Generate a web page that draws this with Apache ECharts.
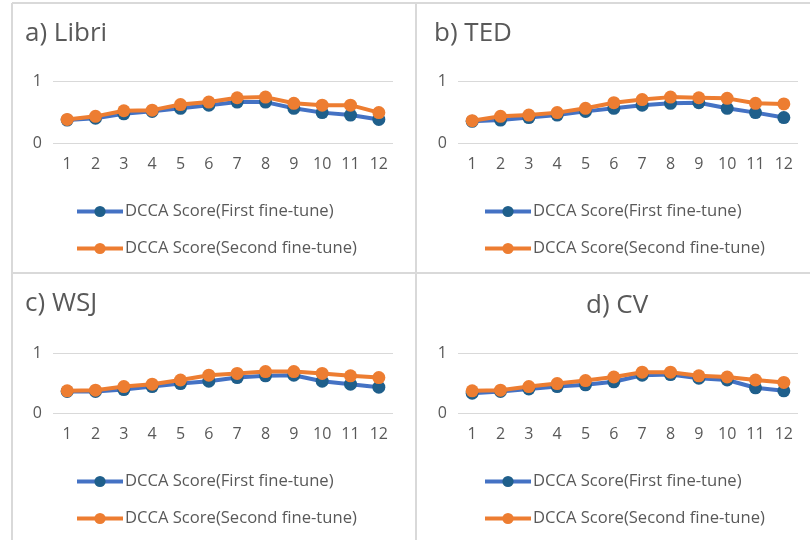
<!DOCTYPE html>
<html><head><meta charset="utf-8">
<script src="https://cdn.jsdelivr.net/npm/echarts@6/dist/echarts.min.js"></script>
<style>html,body{margin:0;padding:0;background:#fff}#c{width:810px;height:540px}</style>
</head><body><div id="c"></div>
<script>
const categories = ['1','2','3','4','5','6','7','8','9','10','11','12'];
const seriesNames = ['DCCA Score(First fine-tune)', 'DCCA Score(Second fine-tune)'];
const panelTitles = ['a) Libri', 'b) TED', 'c) WSJ', 'd) CV'];
const libriFirst  = [0.37,0.40,0.47,0.51,0.56,0.61,0.66,0.66,0.56,0.49,0.45,0.38];
const libriSecond = [0.38,0.43,0.52,0.53,0.62,0.66,0.73,0.74,0.64,0.61,0.61,0.49];
const tedFirst    = [0.35,0.37,0.41,0.45,0.51,0.56,0.61,0.64,0.65,0.56,0.49,0.41];
const tedSecond   = [0.36,0.43,0.45,0.49,0.56,0.65,0.70,0.74,0.73,0.72,0.64,0.63];
const wsjFirst    = [0.36,0.36,0.39,0.44,0.49,0.53,0.59,0.62,0.63,0.53,0.48,0.43];
const wsjSecond   = [0.37,0.38,0.44,0.48,0.55,0.63,0.66,0.69,0.69,0.66,0.62,0.59];
const cvFirst     = [0.33,0.36,0.40,0.44,0.47,0.52,0.63,0.64,0.58,0.55,0.42,0.37];
const cvSecond    = [0.37,0.38,0.44,0.49,0.54,0.60,0.68,0.68,0.62,0.60,0.55,0.51];
const yTicks = [0, 1];

const panels = [
  {first: libriFirst, second: libriSecond},
  {first: tedFirst, second: tedSecond},
  {first: wsjFirst, second: wsjSecond},
  {first: cvFirst, second: cvSecond}
];
const layout = [
  {gl:53, gt:81, gh:62, title:{left:25, top:21}, legend:{left:75, top:203}},
  {gl:458, gt:81, gh:62, title:{left:434, top:21}, legend:{left:483, top:203}},
  {gl:53, gt:353, gh:60, title:{left:25, top:291}, legend:{left:75, top:473}},
  {gl:458, gt:353, gh:60, title:{left:586, top:293}, legend:{left:483, top:473}}
];
const FONT = '"Open Sans", "Noto Sans", sans-serif';
const TXT = '#595959';
const BLUE = '#4472C4', BLUE_DOT = '#1F5F8B', ORANGE = '#ED7D31';

const option = {
  backgroundColor: '#fff',
  animation: false,
  title: [], legend: [], grid: [], xAxis: [], yAxis: [], series: [],
  graphic: [
    {type:'line', shape:{x1:12,y1:3,x2:810,y2:3}, style:{stroke:'#D9D9D9', lineWidth:2}},
    {type:'line', shape:{x1:12,y1:3,x2:12,y2:540}, style:{stroke:'#D9D9D9', lineWidth:2}},
    {type:'line', shape:{x1:416,y1:3,x2:416,y2:540}, style:{stroke:'#D9D9D9', lineWidth:2}},
    {type:'line', shape:{x1:12,y1:273,x2:810,y2:273}, style:{stroke:'#D9D9D9', lineWidth:2}}
  ]
};

panels.forEach((p, i) => {
  const L = layout[i];
  option.title.push({text: panelTitles[i], left: L.title.left, top: L.title.top, padding:0,
    textStyle:{fontFamily:FONT, fontSize:26, fontWeight:'normal', color:TXT}});
  option.grid.push({left: L.gl, top: L.gt, width: 340, height: L.gh});
  option.xAxis.push({type:'category', gridIndex:i, data:categories, boundaryGap:true,
    axisLine:{show:false}, axisTick:{show:false},
    axisLabel:{color:TXT, fontFamily:FONT, fontSize:16, margin:13}});
  option.yAxis.push({type:'value', gridIndex:i, min:yTicks[0], max:yTicks[yTicks.length-1], interval:1,
    axisLine:{show:false}, axisTick:{show:false},
    axisLabel:{color:TXT, fontFamily:FONT, fontSize:16, margin:11},
    splitLine:{show:true, lineStyle:{color:'#D9D9D9', width:1}}});
  option.series.push({name: seriesNames[0], type:'line', xAxisIndex:i, yAxisIndex:i, data:p.first,
    symbol:'circle', symbolSize:13, lineStyle:{color:BLUE, width:4},
    itemStyle:{color:BLUE_DOT, borderWidth:0}, z:2});
  option.series.push({name: seriesNames[1], type:'line', xAxisIndex:i, yAxisIndex:i, data:p.second,
    symbol:'circle', symbolSize:13, lineStyle:{color:ORANGE, width:4},
    itemStyle:{color:ORANGE, borderWidth:0}, z:3});
  option.legend.push({orient:'vertical', left:L.legend.left, top:L.legend.top, padding:0,
    itemWidth:46, itemHeight:14, itemGap:20, selectedMode:false,
    lineStyle:{width:4}, itemStyle:{borderWidth:0},
    data: seriesNames,
    textStyle:{color:TXT, fontFamily:FONT, fontSize:16.6, padding:[0,0,0,-3]}});
});

const chart = echarts.init(document.getElementById('c'), null, {renderer:'canvas'});
chart.setOption(option);
</script></body></html>
